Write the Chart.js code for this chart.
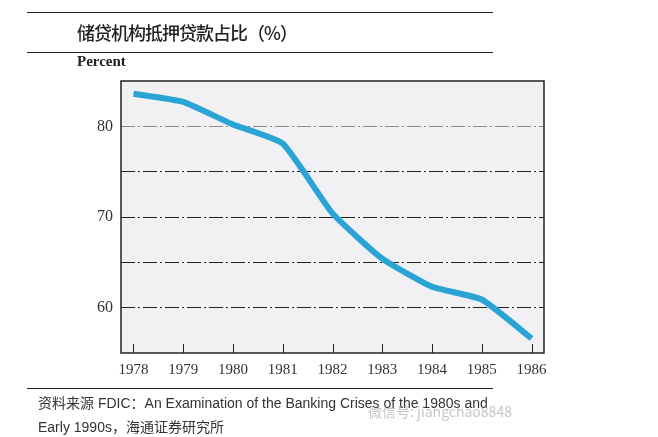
<!DOCTYPE html>
<html lang="zh">
<head>
    <meta charset="UTF-8">
    <title>储贷机构抵押贷款占比</title>
    <style>
        body {
            margin: 0;
            padding: 0;
            background-color: #fff;
        }

        .page {
            position: relative;
            width: 658px;
            height: 437px;
            overflow: hidden;
        }

        .rule {
            position: absolute;
            left: 27px;
            width: 466px;
            height: 1px;
            background-color: #222;
        }

        .title {
            position: absolute;
            left: 77px;
            top: 19px;
            font-family: "Noto Sans CJK SC", sans-serif;
            font-size: 18px;
            font-weight: 500;
            color: #222;
            letter-spacing: -1px;
        }

        .unit {
            position: absolute;
            left: 77px;
            top: 53px;
            font-family: "Liberation Serif", serif;
            font-size: 15px;
            font-weight: bold;
            color: #222;
        }

        .source {
            position: absolute;
            left: 38px;
            top: 391px;
            font-family: "Liberation Sans", "Noto Sans CJK SC", sans-serif;
            font-size: 14px;
            line-height: 23px;
            color: #333;
        }

        .source .cn {
            font-family: "Noto Sans CJK SC", sans-serif;
            font-size: 14px;
        }

        .watermark {
            position: absolute;
            left: 368px;
            top: 401px;
            font-family: "Noto Sans CJK SC", sans-serif;
            font-size: 14px;
            color: rgba(150, 150, 150, 0.55);
        }

        #chart {
            position: absolute;
            left: 0;
            top: 0;
        }
    </style>
</head>
<body>
    <div class="page">
        <canvas id="chart" width="658" height="437"></canvas>
        <div class="rule" style="top: 12px;"></div>
        <div class="title">储贷机构抵押贷款占比（%）</div>
        <div class="rule" style="top: 52px;"></div>
        <div class="unit">Percent</div>
        <div class="rule" style="top: 388px;"></div>
        <div class="source"><span class="cn">资料来源</span> FDIC：An Examination of the Banking Crises of the 1980s and<br>Early 1990s，<span class="cn">海通证券研究所</span></div>
        <div class="watermark">微信号: jiangchao8848</div>
    </div>

    <script src="https://cdn.jsdelivr.net/npm/chart.js"></script>
    <script>
        // data
        const years = [1978, 1979, 1980, 1981, 1982, 1983, 1984, 1985, 1986];
        const shares = [83.6, 82.7, 80.2, 78.1, 70.4, 65.4, 62.3, 60.9, 56.6];
        const gridValues = [60, 65, 70, 75, 80];
        const yLabels = [60, 70, 80];

        // plot background, box and inward x ticks
        const frame = {
            id: 'frame',
            beforeDraw(chart) {
                const { ctx, chartArea: a } = chart;
                ctx.save();
                ctx.fillStyle = '#f1f1f3';
                ctx.fillRect(a.left, a.top, a.right - a.left, a.bottom - a.top);
                ctx.restore();
            },
            afterDatasetsDraw(chart) {
                const { ctx, chartArea: a, scales } = chart;
                ctx.save();
                ctx.strokeStyle = '#222';
                ctx.lineWidth = 1.5;
                ctx.strokeRect(a.left, a.top, a.right - a.left, a.bottom - a.top);
                ctx.lineWidth = 1;
                ctx.beginPath();
                years.forEach(y => {
                    const x = Math.round(scales.x.getPixelForValue(y)) + 0.5;
                    ctx.moveTo(x, a.bottom);
                    ctx.lineTo(x, a.bottom - 9);
                });
                ctx.stroke();
                ctx.restore();
            }
        };

        const ctx = document.getElementById('chart').getContext('2d');
        const chart = new Chart(ctx, {
            type: 'line',
            data: {
                datasets: [{
                    data: years.map((y, i) => ({ x: y, y: shares[i] })),
                    borderColor: '#2aa4d5',
                    borderWidth: 6,
                    pointRadius: 0,
                    tension: 0.15,
                    borderCapStyle: 'butt',
                    borderJoinStyle: 'round'
                }]
            },
            options: {
                responsive: false,
                animation: false,
                layout: {
                    padding: { left: 81, top: 81, right: 114, bottom: 54 }
                },
                plugins: {
                    legend: { display: false },
                    tooltip: { enabled: false }
                },
                scales: {
                    x: {
                        type: 'linear',
                        min: 1977.75,
                        max: 1986.25,
                        afterBuildTicks: s => { s.ticks = years.map(v => ({ value: v })); },
                        afterFit: s => { s.height = 30; },
                        border: { display: false },
                        grid: { display: false, drawTicks: false },
                        ticks: {
                            padding: 8,
                            color: '#333',
                            font: { family: 'Liberation Serif', size: 15 },
                            callback: v => String(v)
                        }
                    },
                    y: {
                        min: 55,
                        max: 85,
                        afterBuildTicks: s => { s.ticks = gridValues.map(v => ({ value: v })); },
                        afterFit: s => { s.width = 40; },
                        border: { display: false, dash: [14, 3, 2, 3] },
                        grid: {
                            drawTicks: false,
                            color: c => c.tick && c.tick.value === 80 ? '#888' : '#222',
                            lineWidth: 1
                        },
                        ticks: {
                            padding: 8,
                            color: '#333',
                            font: { family: 'Liberation Serif', size: 16 },
                            callback: v => yLabels.includes(v) ? String(v) : ''
                        }
                    }
                }
            },
            plugins: [frame]
        });
    </script>
</body>
</html>
